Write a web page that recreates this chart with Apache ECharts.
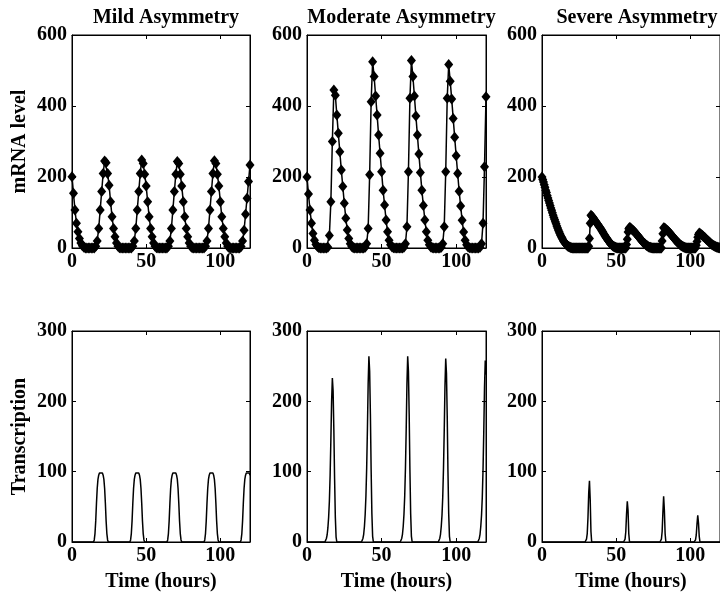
<!DOCTYPE html>
<html>
<head>
<meta charset="utf-8">
<script src="https://cdn.jsdelivr.net/npm/echarts@6/dist/echarts.min.js"></script>
<style>
  html, body { margin: 0; padding: 0; background: #fff; }
  #main { width: 720px; height: 594px; }
</style>
</head>
<body>
<div id="main"></div>
<script>
const TITLES = ['Mild Asymmetry', 'Moderate Asymmetry', 'Severe Asymmetry']
const ROW_NAMES = ['mRNA level', 'Transcription']
const X_NAME = 'Time (hours)'

// mRNA level, one value per hour, t = 0..120
const MRNA_MILD = [
  201, 154, 107, 70, 46, 27, 14, 6, 2, 0,
  0, 0, 0, 0, 0, 0, 5, 20, 55, 107,
  159, 210, 245, 240, 210, 177, 130, 88, 55, 32,
  14, 5, 1, 0, 0, 0, 0, 0, 0, 0,
  0, 5, 20, 55, 107, 159, 210, 248, 238, 208,
  175, 130, 88, 55, 32, 14, 5, 1, 0, 0,
  0, 0, 0, 0, 0, 5, 20, 55, 107, 159,
  208, 244, 238, 208, 175, 130, 88, 55, 32, 14,
  5, 1, 0, 0, 0, 0, 0, 0, 0, 0,
  5, 20, 55, 107, 159, 210, 246, 238, 208, 175,
  130, 88, 55, 32, 14, 5, 1, 0, 0, 0,
  0, 0, 0, 0, 4, 20, 50, 95, 140, 187,
  234,
]
const MRNA_MODERATE = [
  200, 152, 107, 70, 41, 22, 10, 4, 1, 0,
  0, 0, 0, 0, 2, 35, 130, 300, 445, 430,
  375, 323, 271, 220, 173, 126, 84, 51, 27, 12,
  4, 1, 0, 0, 0, 0, 0, 0, 0, 2,
  12, 55, 206, 412, 525, 483, 428, 375, 318, 267,
  215, 163, 121, 79, 46, 22, 9, 3, 1, 0,
  0, 0, 0, 0, 0, 2, 12, 60, 215, 422,
  528, 483, 428, 372, 318, 265, 213, 163, 120, 79,
  46, 22, 9, 3, 1, 0, 0, 0, 0, 0,
  2, 12, 60, 215, 422, 517, 470, 420, 365, 312,
  260, 210, 160, 118, 78, 45, 22, 9, 3, 1,
  0, 0, 0, 0, 0, 0, 2, 12, 70, 229,
  426,
]
// severe case is sampled every half hour, t = 0..120
const MRNA_SEVERE = [
  200, 193, 186, 178, 171, 163, 156, 148, 141, 134,
  127, 120, 113, 106, 99, 92, 86, 80, 74, 68,
  62, 56, 51, 46, 41, 36, 32, 28, 24, 20,
  17, 14, 11, 9, 7, 5, 4, 3, 2, 1,
  1, 0, 0, 0, 0, 0, 0, 0, 0, 0,
  0, 0, 0, 0, 0, 0, 0, 0, 0, 0,
  0, 0, 0, 5, 27, 70, 92, 90, 88, 85,
  82, 79, 76, 73, 70, 67, 64, 61, 58, 55,
  52, 48, 45, 41, 38, 34, 31, 28, 25, 22,
  19, 16, 13, 11, 9, 7, 5, 4, 3, 2,
  1, 1, 0, 0, 0, 0, 0, 0, 0, 0,
  0, 0, 0, 0, 10, 25, 45, 54, 58, 57,
  55, 53, 51, 49, 47, 45, 42, 40, 37, 35,
  32, 30, 27, 25, 22, 20, 17, 15, 13, 11,
  9, 7, 6, 4, 3, 2, 2, 1, 1, 0,
  0, 0, 0, 0, 0, 0, 0, 0, 0, 0,
  0, 0, 20, 40, 57, 56, 55, 53, 51, 49,
  47, 45, 43, 40, 38, 35, 33, 30, 28, 25,
  23, 20, 18, 16, 14, 12, 10, 8, 7, 5,
  4, 3, 2, 1, 1, 0, 0, 0, 0, 0,
  0, 0, 0, 0, 0, 0, 0, 0, 8, 18,
  30, 38, 42, 41, 39, 37, 36, 34, 32, 30,
  28, 26, 24, 22, 20, 18, 16, 14, 12, 10,
  9, 7, 6, 5, 4, 3, 2, 2, 1, 1,
  0,
]
const MRNA_STEPS = [1, 1, 0.5]

// transcription rate, [hour, value] read along each pulse
const TX_MILD = [
  [0, 0], [1, 2], [2, 0],
  [14.5, 0], [15, 3], [15.5, 12], [16, 30], [16.5, 55], [17, 76], [17.5, 89], [18, 95], [18.5, 98],
  [19.5, 99], [20.5, 98], [21, 95], [21.5, 89], [22, 76], [22.5, 55], [23, 30], [23.5, 12], [24, 3], [24.5, 0],
  [39, 0], [39.5, 3], [40, 12], [40.5, 30], [41, 55], [41.5, 76], [42, 89], [42.5, 95], [43, 98],
  [44, 99], [45, 98], [45.5, 95], [46, 89], [46.5, 76], [47, 55], [47.5, 30], [48, 12], [48.5, 3], [49, 0],
  [64, 0], [64.5, 3], [65, 12], [65.5, 30], [66, 55], [66.5, 76], [67, 89], [67.5, 95], [68, 98],
  [69, 99], [70, 98], [70.5, 95], [71, 89], [71.5, 76], [72, 55], [72.5, 30], [73, 12], [73.5, 3], [74, 0],
  [89, 0], [89.5, 3], [90, 12], [90.5, 30], [91, 55], [91.5, 76], [92, 89], [92.5, 95], [93, 98],
  [94, 99], [95, 98], [95.5, 95], [96, 89], [96.5, 76], [97, 55], [97.5, 30], [98, 12], [98.5, 3], [99, 0],
  [113.5, 0], [114, 3], [114.5, 12], [115, 30], [115.5, 55], [116, 76], [116.5, 89], [117, 95], [117.5, 98],
  [118.5, 99], [119.5, 98], [120, 95],
]
const TX_MODERATE = [
  [0, 0],
  [12, 0], [12.5, 2], [13, 5], [13.5, 10], [14, 20], [14.5, 35], [15, 58], [15.5, 95], [16, 145],
  [16.5, 200], [17, 233], [17.5, 215], [18, 160], [18.5, 90], [19, 35], [19.5, 7], [20, 0],
  [36.5, 0], [37, 2], [37.5, 5], [38, 11], [38.5, 22], [39, 39], [39.5, 65], [40, 105], [40.5, 160],
  [41, 225], [41.5, 264], [42, 243], [42.5, 182], [43, 102], [43.5, 40], [44, 8], [44.5, 0],
  [62.5, 0], [63, 2], [63.5, 5], [64, 11], [64.5, 22], [65, 39], [65.5, 65], [66, 105], [66.5, 160],
  [67, 225], [67.5, 264], [68, 243], [68.5, 182], [69, 102], [69.5, 40], [70, 8], [70.5, 0],
  [88, 0], [88.5, 2], [89, 5], [89.5, 11], [90, 22], [90.5, 38], [91, 64], [91.5, 104], [92, 158],
  [92.5, 222], [93, 261], [93.5, 240], [94, 180], [94.5, 100], [95, 40], [95.5, 8], [96, 0],
  [114.5, 0], [115, 2], [115.5, 5], [116, 11], [116.5, 22], [117, 38], [117.5, 63], [118, 102],
  [118.5, 156], [119, 220], [119.5, 258], [120, 238],
]
const TX_SEVERE = [
  [0, 0],
  [29, 0], [29.5, 1], [30, 4], [30.5, 12], [31, 35], [31.5, 70], [32, 87], [32.5, 60], [33, 15], [33.5, 0],
  [55, 0], [55.5, 1], [56, 4], [56.5, 15], [57, 40], [57.5, 58], [58, 45], [58.5, 12], [59, 0],
  [79.5, 0], [80, 1], [80.5, 4], [81, 15], [81.5, 42], [82, 65], [82.5, 45], [83, 12], [83.5, 0],
  [102.5, 0], [103, 1], [103.5, 3], [104, 10], [104.5, 26], [105, 38], [105.5, 27], [106, 8], [106.5, 0],
  [120, 0],
]

const X_RANGE = [0, 120, 50]
const Y_RANGES = [[0, 600, 200], [0, 300, 100]]

const FONT = 'Liberation Serif'
const LEFTS = [72, 307, 542]
const WIDTHS = [178, 179, 180]
const TOPS = [35, 331]
const HEIGHTS = [213, 211]

const textStyle = { color: '#000', fontFamily: FONT, fontWeight: 'bold', fontSize: 20 }

function build() {
  const grids = []
  const xAxis = []
  const yAxis = []
  const series = []
  const mrna = [MRNA_MILD, MRNA_MODERATE, MRNA_SEVERE]
  const tx = [TX_MILD, TX_MODERATE, TX_SEVERE]

  for (let row = 0; row < 2; row++) {
    for (let col = 0; col < 3; col++) {
      const g = grids.length
      grids.push({
        left: LEFTS[col],
        width: WIDTHS[col],
        top: TOPS[row],
        height: HEIGHTS[row],
        show: true,
        borderColor: '#000',
        borderWidth: 1,
        backgroundColor: 'transparent',
      })
      const [ymin, ymax, yint] = Y_RANGES[row]
      const common = {
        type: 'value',
        gridIndex: g,
        splitLine: { show: false },
        axisLine: { show: true, onZero: false, lineStyle: { color: '#000', width: 1 } },
        axisTick: { show: true, inside: true, length: 4, lineStyle: { color: '#000' } },
      }
      xAxis.push({
        ...common,
        min: X_RANGE[0],
        max: X_RANGE[1],
        interval: X_RANGE[2],
        position: 'bottom',
        axisLabel: { ...textStyle, margin: 4, showMaxLabel: false },
        name: row === 1 ? X_NAME : '',
        nameLocation: 'middle',
        nameGap: 30,
        nameTextStyle: textStyle,
      })
      xAxis.push({
        ...common,
        min: X_RANGE[0],
        max: X_RANGE[1],
        interval: X_RANGE[2],
        position: 'top',
        axisLabel: { show: false },
      })
      yAxis.push({
        ...common,
        min: ymin,
        max: ymax,
        interval: yint,
        position: 'left',
        axisLabel: { ...textStyle, margin: 5 },
        name: col === 0 ? ROW_NAMES[row] : '',
        nameLocation: 'middle',
        nameGap: 42,
        nameTextStyle: textStyle,
      })
      yAxis.push({
        ...common,
        min: ymin,
        max: ymax,
        interval: yint,
        position: 'right',
        axisLabel: { show: false },
      })

      if (row === 0) {
        const step = MRNA_STEPS[col]
        series.push({
          type: 'line',
          xAxisIndex: 2 * g,
          yAxisIndex: 2 * g,
          data: mrna[col].map((v, i) => [i * step, v]),
          symbol: 'diamond',
          symbolSize: [9, 11],
          showAllSymbol: true,
          lineStyle: { color: '#000', width: 1.5 },
          itemStyle: { color: '#000' },
          animation: false,
        })
      } else {
        series.push({
          type: 'line',
          xAxisIndex: 2 * g,
          yAxisIndex: 2 * g,
          data: tx[col],
          showSymbol: false,
          symbol: 'none',
          lineStyle: { color: '#000', width: 1.5 },
          animation: false,
        })
      }
    }
  }

  const title = TITLES.map((text, col) => ({
    text,
    left: LEFTS[col] + WIDTHS[col] / 2,
    top: 3,
    textAlign: 'center',
    textStyle: { ...textStyle },
  }))

  return { animation: false, title, grid: grids, xAxis, yAxis, series }
}

function main() {
  const chart = echarts.init(document.getElementById('main'), null, { renderer: 'canvas' })
  chart.setOption(build())
}

window.onload = main
</script>
</body>
</html>
